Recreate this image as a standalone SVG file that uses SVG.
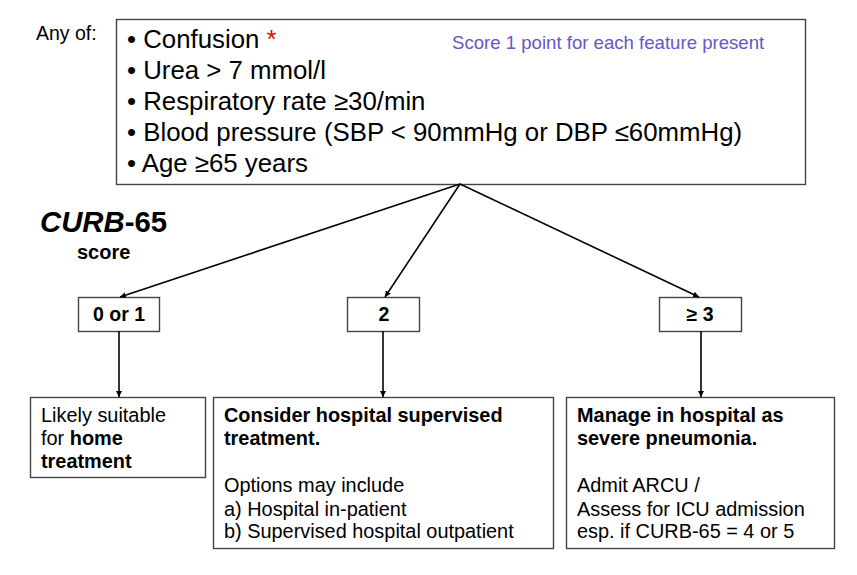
<svg xmlns="http://www.w3.org/2000/svg" width="857" height="575" viewBox="0 0 857 575">
<style>
.box{fill:#fff;stroke:#444;stroke-width:1.4}
.t{font-family:"Liberation Sans",Arial,sans-serif;fill:#000}
.big{font-size:25.8px}
.mid{font-size:19.5px}
.sm{font-size:19.9px}
.b{font-weight:bold}
.conn{stroke:#000;stroke-width:1.6;fill:none}
</style>
<defs>
<marker id="ah" viewBox="0 0 10 10" refX="10" refY="5" markerWidth="6" markerHeight="6" orient="auto" markerUnits="userSpaceOnUse">
<path d="M0,0 L10,5 L0,10 z" fill="#000"/>
</marker>
</defs>
<rect width="857" height="575" fill="#fff"/>
<text class="t" x="36" y="40" font-size="19.5">Any of:</text>
<g id="criteria">
<rect class="box" x="116.5" y="19.5" width="689" height="165"/>
<text class="t big" x="127" y="48">• Confusion <tspan fill="#e00" style="fill:#e00">*</tspan></text>
<text class="t big" x="127" y="79">• Urea &gt; 7 mmol/l</text>
<text class="t big" x="127" y="110">• Respiratory rate ≥30/min</text>
<text class="t big" x="127" y="141">• Blood pressure (SBP &lt; 90mmHg or DBP ≤60mmHg)</text>
<text class="t big" x="127" y="172">• Age ≥65 years</text>
<text class="t" x="452" y="49" font-size="18.6" style="fill:#6656c8">Score 1 point for each feature present</text>
</g>
<g id="title">
<text class="t b" x="40" y="232" font-size="29.3"><tspan font-style="italic">CURB</tspan>-65</text>
<text class="t b" x="77" y="259" font-size="20">score</text>
</g>
<g id="s01">
<rect class="box" x="78.5" y="297.5" width="81" height="34"/>
<text class="t b mid" x="119" y="321" text-anchor="middle">0 or 1</text>
</g>
<g id="s2">
<rect class="box" x="347.5" y="297.5" width="72" height="34"/>
<text class="t b mid" x="384" y="321" text-anchor="middle">2</text>
</g>
<g id="s3">
<rect class="box" x="659.5" y="297.5" width="82" height="34"/>
<text class="t b mid" x="700" y="321" text-anchor="middle">≥ 3</text>
</g>
<g id="home">
<rect class="box" x="30.5" y="397.5" width="175" height="80"/>
<text class="t sm" x="41" y="422">Likely suitable</text>
<text class="t sm" x="41" y="445">for <tspan class="b">home</tspan></text>
<text class="t sm b" x="41" y="468">treatment</text>
</g>
<g id="supervised">
<rect class="box" x="213.5" y="397.5" width="340" height="151"/>
<text class="t sm b" x="224" y="422">Consider hospital supervised</text>
<text class="t sm b" x="224" y="445">treatment.</text>
<text class="t sm" x="224" y="492">Options may include</text>
<text class="t sm" x="224" y="516">a) Hospital in-patient</text>
<text class="t sm" x="224" y="538">b) Supervised hospital outpatient</text>
</g>
<g id="severe">
<rect class="box" x="566.5" y="397.5" width="268" height="151"/>
<text class="t sm b" x="577" y="422">Manage in hospital as</text>
<text class="t sm b" x="577" y="445">severe pneumonia.</text>
<text class="t sm" x="577" y="492">Admit ARCU /</text>
<text class="t sm" x="577" y="516">Assess for ICU admission</text>
<text class="t sm" x="577" y="538">esp. if CURB-65 = 4 or 5</text>
</g>
<g id="connectors">
<line class="conn" x1="460" y1="184" x2="120" y2="297" marker-end="url(#ah)"/>
<line class="conn" x1="460" y1="184" x2="385" y2="297" marker-end="url(#ah)"/>
<line class="conn" x1="460" y1="184" x2="699" y2="297" marker-end="url(#ah)"/>
<line class="conn" x1="119" y1="331" x2="119" y2="397" marker-end="url(#ah)"/>
<line class="conn" x1="383" y1="331" x2="383" y2="397" marker-end="url(#ah)"/>
<line class="conn" x1="701" y1="331" x2="701" y2="397" marker-end="url(#ah)"/>
</g>
</svg>
